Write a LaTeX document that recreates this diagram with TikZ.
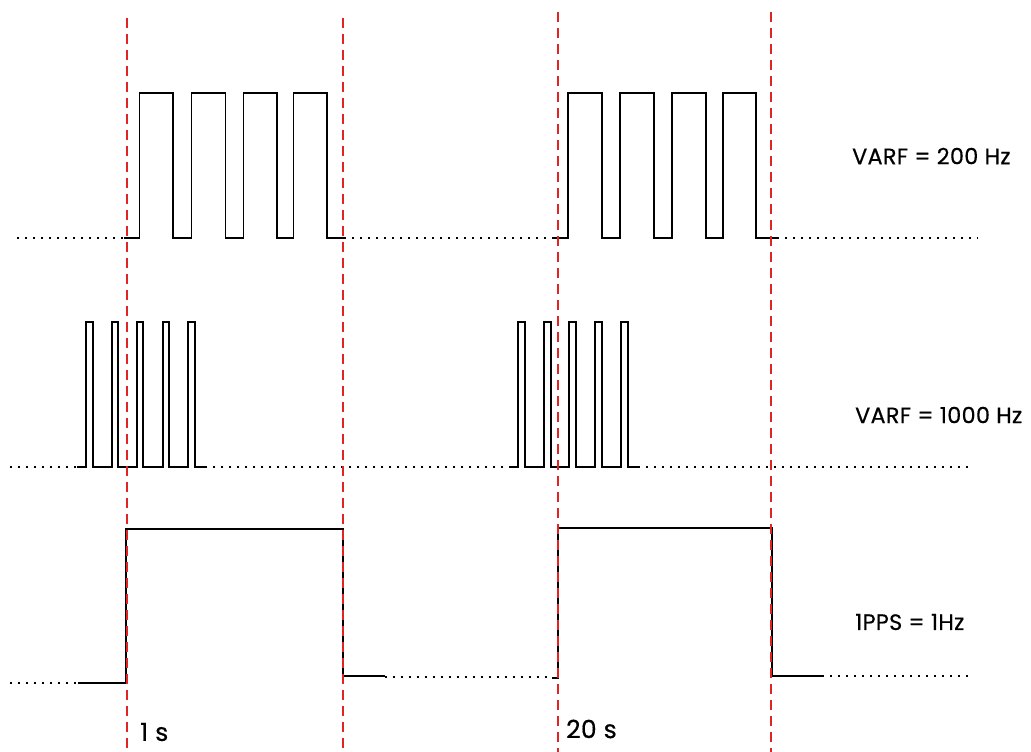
\documentclass[tikz,border=0pt]{standalone}
\usepackage{fontspec}
\setmainfont{Poppins}[LetterSpace=1.5,FakeBold=0.5]
\definecolor{markred}{RGB}{222,36,36}
\tikzset{
  sig/.style={line width=1.6pt, black, line join=miter},
  dots/.style={line width=1.8pt, black, dash pattern=on 1.8pt off 6.2pt},
  marker/.style={line width=2.4pt, markred, dash pattern=on 10pt off 6pt},
  lbl/.style={anchor=west, inner sep=0pt, font=\fontsize{22.3}{25}\selectfont},
  tlbl/.style={anchor=west, inner sep=0pt, font=\fontsize{25}{28}\selectfont}
}
\begin{document}
\begin{tikzpicture}[x=1pt,y=-1pt]
\useasboundingbox (0,0) rectangle (1031,752);
% top signal 200 Hz
\draw[dots] (17,238) -- (124,238);
\draw[dots] (344,238) -- (552,238);
\draw[dots] (777,238) -- (978,238);
\draw[sig] (124,238) -- (139.5,238) -- (139.5,93) -- (173,93) -- (173,238) -- (191.5,238) -- (191.5,93) -- (225.5,93) -- (225.5,238) -- (243.5,238) -- (243.5,93) -- (277,93) -- (277,238) -- (293.5,238) -- (293.5,93) -- (327,93) -- (327,238) -- (344,238);
\draw[sig] (552,238) -- (568,238) -- (568,93) -- (602,93) -- (602,238) -- (620,238) -- (620,93) -- (654,93) -- (654,238) -- (672,238) -- (672,93) -- (706,93) -- (706,238) -- (723,238) -- (723,93) -- (756,93) -- (756,238) -- (777,238);
% middle signal 1000 Hz
\draw[dots] (10,467) -- (77,467);
\draw[dots] (205,467) -- (511,467);
\draw[dots] (638,467) -- (968,467);
\draw[sig] (77,467) -- (86,467) -- (86,322) -- (93,322) -- (93,467) -- (112,467) -- (112,322) -- (118,322) -- (118,467) -- (137,467) -- (137,322) -- (143,322) -- (143,467) -- (163,467) -- (163,322) -- (169,322) -- (169,467) -- (188,467) -- (188,322) -- (195,322) -- (195,467) -- (205,467);
\draw[sig] (511,467) -- (518,467) -- (518,322) -- (525,322) -- (525,467) -- (544,467) -- (544,322) -- (551,322) -- (551,467) -- (569,467) -- (569,322) -- (576,322) -- (576,467) -- (595,467) -- (595,322) -- (602,322) -- (602,467) -- (621,467) -- (621,322) -- (628,322) -- (628,467) -- (638,467);
% bottom signal 1PPS
\draw[dots] (10,683) -- (78,683);
\draw[dots] (385,677) -- (552,677);
\draw[dots] (822,676) -- (972,676);
\draw[sig] (78,683) -- (126,683) -- (126,529) -- (343,529) -- (343,676) -- (385,676);
\draw[sig] (552,678) -- (558,678) -- (558,528) -- (772,528) -- (772,676) -- (822,676);
% red markers
\draw[marker] (127,18) -- (127,752);
\draw[marker] (343,18) -- (343,752);
\draw[marker] (558,12) -- (558,752);
\draw[marker] (771,12) -- (771,752);
% labels
\node[lbl] (l200) at (852,156) {VARF = 200 Hz};
\node[lbl] (l1000) at (855,415) {VARF = 1000 Hz};
\node[lbl] (lpps) at (855,622) {1PPS = 1Hz};
\node[tlbl] (t1) at (140,732) {1 s};
\node[tlbl] (t20) at (566,729) {20 s};
\end{tikzpicture}
\end{document}
